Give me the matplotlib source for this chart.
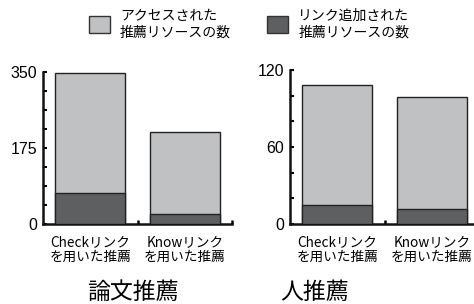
import matplotlib
matplotlib.use("Agg")
import matplotlib.pyplot as plt
from matplotlib.patches import Patch

plt.rcParams['font.family'] = ['Noto Sans CJK JP', 'DejaVu Sans']

# data
categories = ['Check\u30ea\u30f3\u30af\n\u3092\u7528\u3044\u305f\u63a8\u85a6',
              'Know\u30ea\u30f3\u30af\n\u3092\u7528\u3044\u305f\u63a8\u85a6']
paper_accessed = [347, 212]
paper_linked = [72, 23]
person_accessed = [108, 99]
person_linked = [15, 12]

panel_titles = ['\u8ad6\u6587\u63a8\u85a6', '\u4eba\u63a8\u85a6']
legend_labels = ['\u30a2\u30af\u30bb\u30b9\u3055\u308c\u305f\n\u63a8\u85a6\u30ea\u30bd\u30fc\u30b9\u306e\u6570',
                 '\u30ea\u30f3\u30af\u8ffd\u52a0\u3055\u308c\u305f\n\u63a8\u85a6\u30ea\u30bd\u30fc\u30b9\u306e\u6570']

light = '#c0c1c3'
dark = '#5e5f61'

fig = plt.figure(figsize=(4.74, 3.04), dpi=100)
W, H = 474, 304

def px_axes(x0, y_top, x1, y_bot):
    return fig.add_axes([x0 / W, 1 - y_bot / H, (x1 - x0) / W, (y_bot - y_top) / H])

def draw_panel(ax, accessed, linked, ymax, step, labeled):
    x = range(len(categories))
    ax.bar(x, accessed, width=0.74, color=light, edgecolor='#222222', linewidth=1.0, zorder=2)
    ax.bar(x, linked, width=0.74, color=dark, edgecolor='#222222', linewidth=1.0, zorder=3)
    ax.set_xlim(-0.5, 1.5)
    ax.set_ylim(0, ymax)
    for s in ['top', 'right']:
        ax.spines[s].set_visible(False)
    for s in ['left', 'bottom']:
        ax.spines[s].set_linewidth(1.8)
        ax.spines[s].set_color('#111111')
    ax.set_yticks(labeled)
    ax.set_yticklabels([str(v) for v in labeled], family='Liberation Sans', fontsize=11.5)
    minor = [i * step for i in range(int(ymax / step) + 1)]
    ax.set_yticks(minor, minor=True)
    ax.tick_params(axis='y', which='both', direction='in', length=3, width=1.5, pad=4)
    ax.set_xticks(list(x))
    ax.set_xticklabels(categories, fontsize=9.8, linespacing=1.08)
    ax.tick_params(axis='x', which='major', length=0, pad=8)
    ax.set_xticks([0.5, 1.5], minor=True)
    ax.tick_params(axis='x', which='minor', direction='in', length=3, width=1.8)

ax1 = px_axes(43, 72, 232, 224)
draw_panel(ax1, paper_accessed, paper_linked, 350, 43.75, [0, 175, 350])

ax2 = px_axes(290, 70, 479, 224)
draw_panel(ax2, person_accessed, person_linked, 120, 20, [0, 60, 120])

fig.text(133 / W, 1 - 292 / H, panel_titles[0], fontsize=16.5, ha='center', va='center')
fig.text(315 / W, 1 - 292 / H, panel_titles[1], fontsize=16.5, ha='center', va='center')

handles = [Patch(facecolor=light, edgecolor='#333333', linewidth=1.0),
           Patch(facecolor=dark, edgecolor='#333333', linewidth=1.0)]
fig.legend(handles, legend_labels, loc='center', bbox_to_anchor=(249 / W, 1 - 24 / H),
           ncol=2, frameon=False, fontsize=10, handlelength=1.5, handleheight=1.5,
           handletextpad=0.75, columnspacing=2.6, borderpad=0, labelspacing=0)

fig.savefig('out.png', dpi=100)
